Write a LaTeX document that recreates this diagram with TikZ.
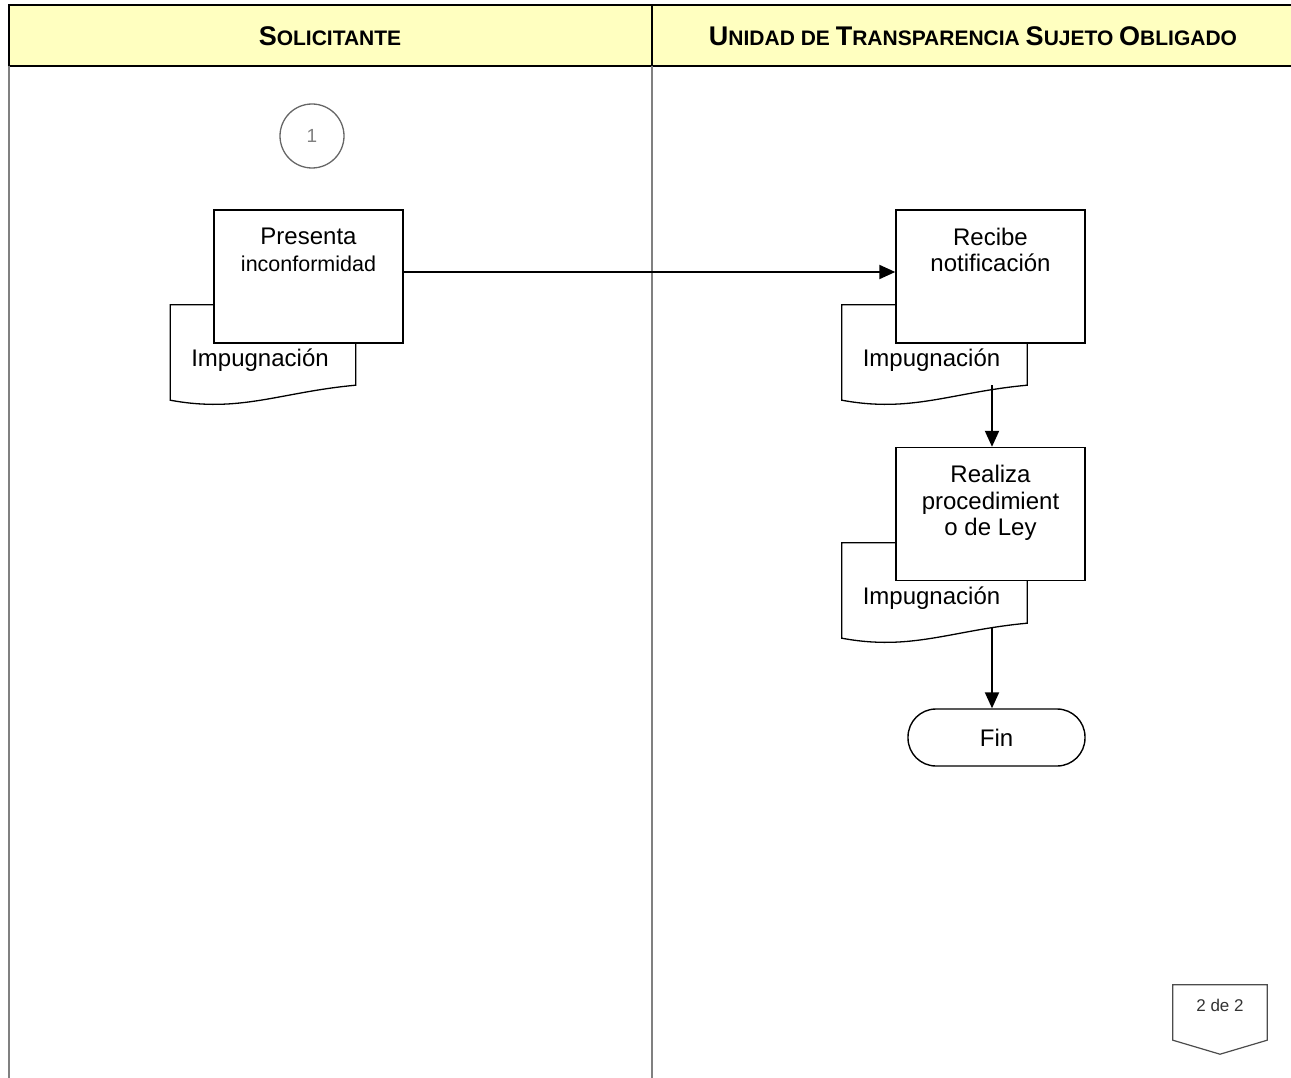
\documentclass[tikz,border=0pt]{standalone}
\usepackage{fontspec}
\setmainfont{Liberation Sans}
\usepackage{tikz}
\usetikzlibrary{positioning,calc,arrows.meta,backgrounds}
\definecolor{lanehead}{RGB}{255,255,192}
\definecolor{lanegray}{RGB}{128,128,128}
\tikzset{
node distance=2cm, % spacing of the flow boxes
act/.style={draw, fill=white, line width=1.4pt, minimum width=189pt, minimum height=133pt, inner sep=4pt, font=\fontsize{24}{26.5}\selectfont},
docu/.style={minimum width=185pt, minimum height=100pt, inner sep=0pt, font=\fontsize{24}{26.5}\selectfont},
fin/.style={draw, line width=1.4pt, rounded corners=28pt, minimum width=177pt, minimum height=57pt, font=\fontsize{24}{26}\selectfont},
conn/.style={circle, draw=lanegray!80!black, line width=1.3pt, minimum size=64pt, text=gray, font=\fontsize{19}{19}\selectfont},
offpage/.style={minimum width=94pt, minimum height=40pt, inner sep=0pt, text=black!80, font=\fontsize{17}{17}\selectfont},
flow/.style={-{Triangle[length=16pt,width=14pt]}, line width=2pt},
lane/.style={draw=lanegray, line width=1.2pt},
}
\newcommand{\acttxt}[1]{\parbox[c][125pt][t]{181pt}{\centering\vspace{14pt}#1}}
\newcommand{\doctxt}[1]{\hspace*{-6pt}\raisebox{-5pt}[\height][\depth]{#1}}
\newcommand{\capsc}[2]{{\fontsize{27}{27}\selectfont #1}{\fontsize{21}{21}\selectfont #2}}

\begin{document}
\begin{tikzpicture}[x=1pt,y=-1pt,on grid]
		\useasboundingbox (0,0) rectangle (1291,1078);
		% lanes
		\fill[lanehead] (9,5) rectangle (1291,66);
		\draw[line width=2.2pt] (1291,5) -- (9,5) -- (9,66) -- (1291,66);
		\draw[line width=1.5pt] (652,5) -- (652,66);
		\draw[lane] (9,66) -- (9,1078);
		\draw[lane] (652,66) -- (652,1078);
		\node[font=\bfseries] (sol) at (330,36) {\capsc{S}{OLICITANTE}};
		\node[font=\bfseries] (uts) at (973,36) {\capsc{U}{NIDAD DE }\capsc{T}{RANSPARENCIA }\capsc{S}{UJETO }\capsc{O}{BLIGADO}};
		% flow
		\node[conn] (c1) at (312,136) {1};
		\node[act] (pres) at (308.5,276.5) {\acttxt{Presenta\\{\fontsize{21.5}{24}\selectfont inconformidad}}};
		\node[act] (rec) at (990.5,276.5) {\acttxt{Recibe\\notificación}};
		\node[act] (rea) [below=237.5pt of rec] {\acttxt{Realiza\\procedimient\\o de Ley}};
		\node[docu] (doc1) [below left=78.5pt and 45.5pt of pres] {\doctxt{Impugnación}};
		\node[docu] (doc2) [below left=78.5pt and 56pt of rec] {\doctxt{Impugnación}};
		\node[docu] (doc3) [below left=79pt and 56pt of rea] {\doctxt{Impugnación}};
		\node[fin] (end) [below right=223.5pt and 6pt of rea] {Fin};
		\node[offpage] (pag) at (1220,1005) {2 de 2};
		\draw[line width=1.2pt, draw=black!70] (pag.north west) -- (pag.north east) -- ($(pag.south east)+(0,15)$) -- ($(pag.south)+(0,29)$) -- ($(pag.south west)+(0,15)$) -- cycle;
		\begin{scope}[on background layer]
		\foreach \d in {doc1,doc2,doc3}
		\draw[line width=1.3pt, fill=white] (\d.north west) -- (\d.north east) -- ($(\d.south east)+(0,-20)$) .. controls ($(\d.south east)+(-76,-13)$) and ($(\d.south west)+(70,8)$) .. ($(\d.south west)+(0,-5)$) -- cycle;
		\end{scope}
		\draw[flow] ([yshift=4.5pt]pres.east) -- ([yshift=4.5pt]rec.west);
		\draw[flow] ($(rea.north |- doc2.south)+(1.5,-20)$) -- ($(rea.north)+(1.5,0)$);
		\draw[flow] ($(rea.north |- doc3.south)+(1.5,-15)$) -- ($(rea.north |- end.north)+(1.5,0)$);
\end{tikzpicture}
\end{document}
